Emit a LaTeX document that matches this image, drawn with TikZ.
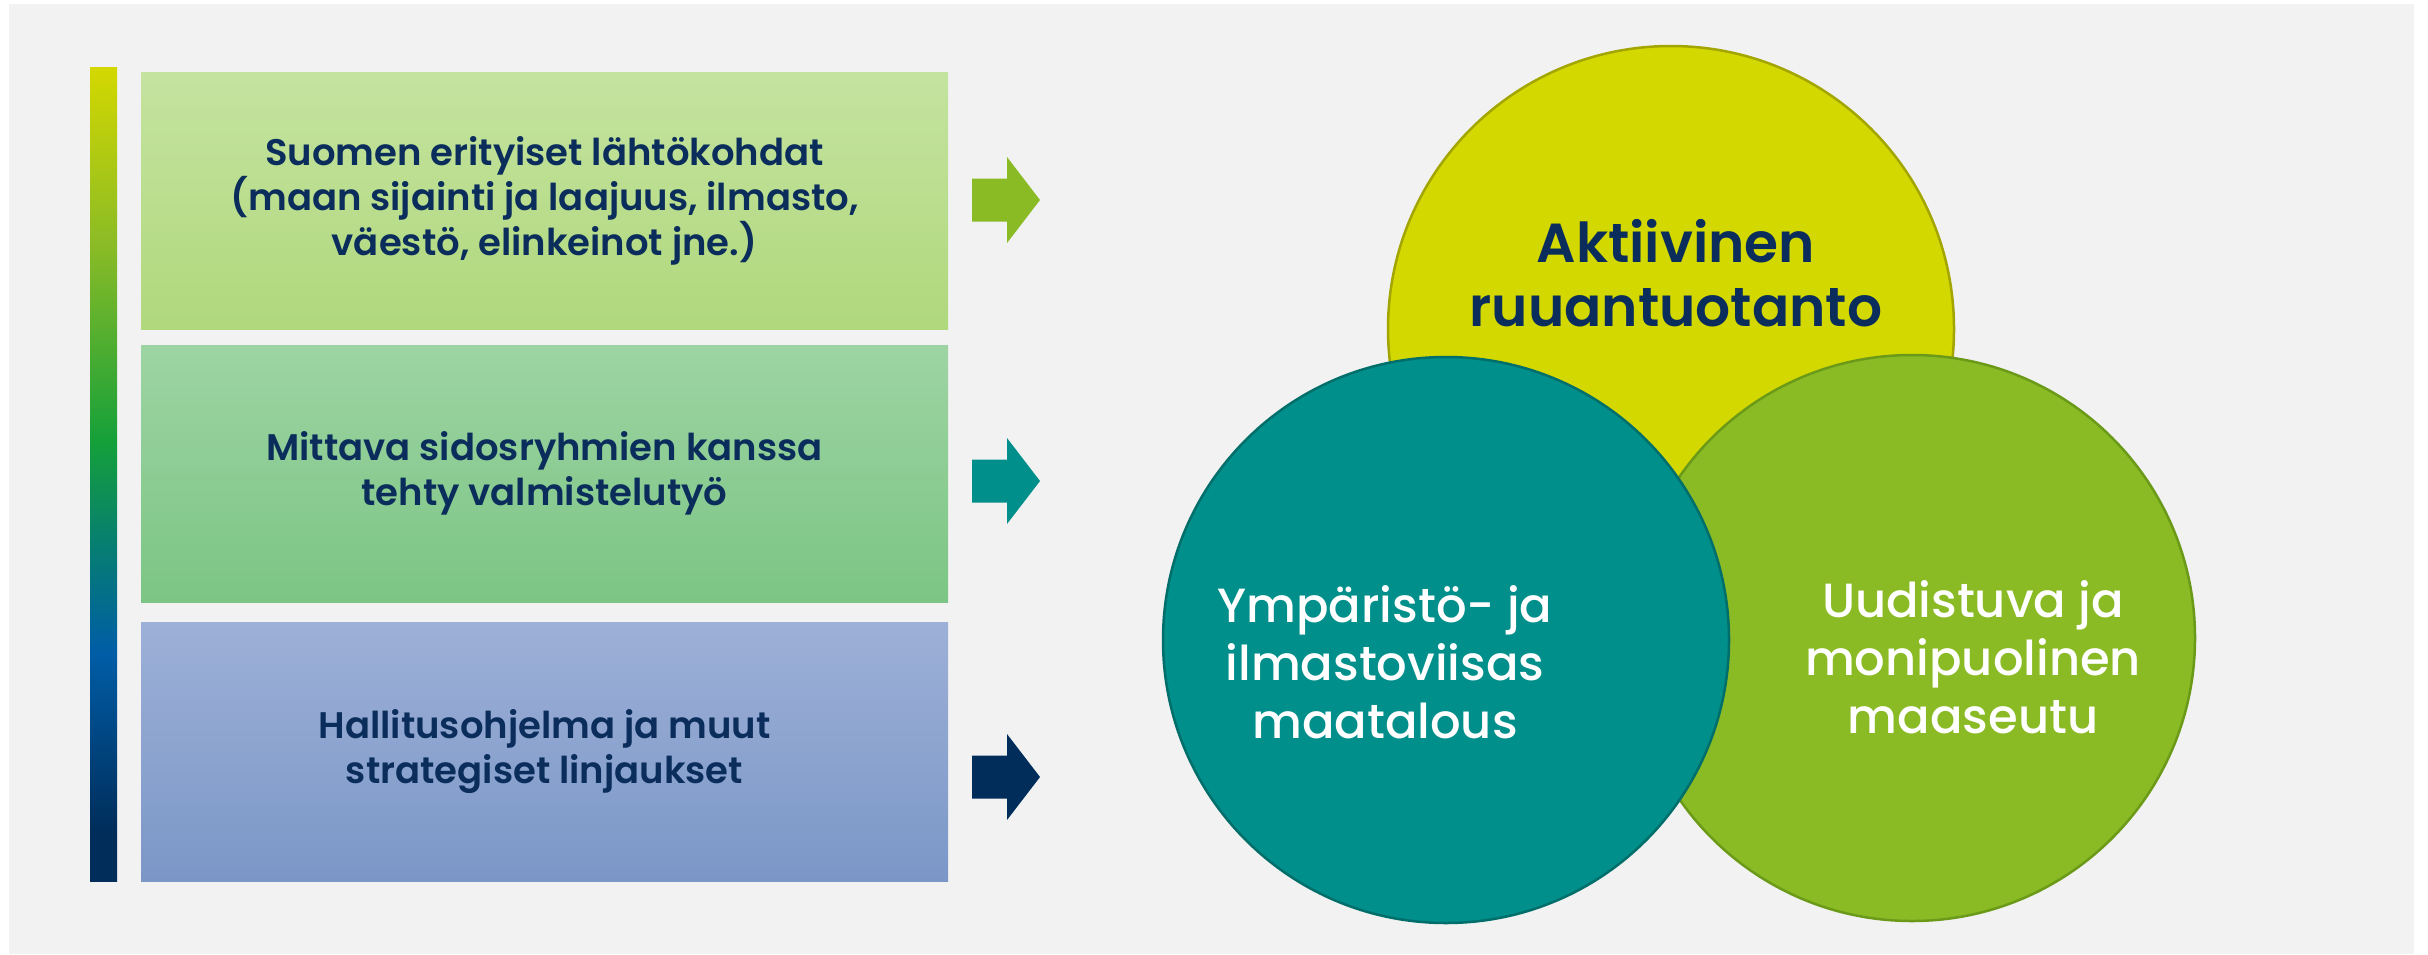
\documentclass[tikz,border=0pt]{standalone}
\usepackage{fontspec}
\setmainfont{Poppins}
\newfontfamily\medfont{Poppins Medium}
\newfontfamily\semifont{Poppins SemiBold}
\usepackage{tikz}

\definecolor{navy}{HTML}{0B2D5B}
\definecolor{arrownavy}{HTML}{002D5A}
\definecolor{lime}{HTML}{D3D800}
\definecolor{limeline}{HTML}{A3A500}
\definecolor{ymteal}{HTML}{008F8A}
\definecolor{ymtealline}{HTML}{006E6A}
\definecolor{grass}{HTML}{8ABB25}
\definecolor{grassline}{HTML}{6A9A18}
\definecolor{bgrey}{HTML}{F2F2F2}

\pgfdeclareverticalshading{barshade}{100bp}{
  color(0bp)=(arrownavy); color(28bp)=(arrownavy);
  color(39bp)=(rgb,255:red,0;green,93;blue,166);
  color(46bp)=(rgb,255:red,7;green,128;blue,110);
  color(52bp)=(rgb,255:red,21;green,160;blue,58);
  color(64bp)=(rgb,255:red,138;green,187;blue,38);
  color(75bp)=(rgb,255:red,212;green,216;blue,0); color(100bp)=(rgb,255:red,212;green,216;blue,0)}

\begin{document}
\begin{tikzpicture}[x=1pt,y=-1pt,
    box/.style={minimum width=807pt, minimum height=257pt, inner sep=0pt, align=center,
      text=navy, font=\semifont\fontsize{37}{45}\selectfont},
    ring/.style={circle, minimum size=566pt, inner sep=0pt, line width=2.5pt},
    ringtext/.style={align=center, inner sep=0pt, font=\medfont\fontsize{48}{58}\selectfont}]
    \fill[white] (0,0) rectangle (2428,954);
    \fill[bgrey] (9,4) rectangle (2414,954);

    % left column
    \node[minimum width=27pt, minimum height=814pt, inner sep=0pt, shading=barshade] (bar) at (103.5,474) {};
    \node[box, top color={rgb,255:red,196;green,227;blue,160}, bottom color={rgb,255:red,176;green,216;blue,124}]
        (lahto) at (544.5,200.5) {Suomen erityiset lähtökohdat\\(maan sijainti ja laajuus, ilmasto,\\väestö, elinkeinot jne.)};
    \node[box, top color={rgb,255:red,157;green,212;blue,163}, bottom color={rgb,255:red,124;green,197;blue,132}]
        (sidos) at (544.5,473.5) {Mittava sidosryhmien kanssa\\tehty valmistelutyö};
    \node[box, minimum height=259pt, top color={rgb,255:red,157;green,176;blue,215}, bottom color={rgb,255:red,123;green,151;blue,199}]
        (halli) at (544.5,751.5) {Hallitusohjelma ja muut\\strategiset linjaukset};

    % arrows
    \coordinate (tip1) at (1040,200);
    \coordinate (tip2) at (1040,481);
    \coordinate (tip3) at (1040,777);
    \fill[grass] (tip1) -- ++(-33,-43) -- ++(0,21.5) -- ++(-35,0) -- ++(0,43) -- ++(35,0) -- ++(0,21.5) -- cycle;
    \fill[ymteal] (tip2) -- ++(-33,-43) -- ++(0,21.5) -- ++(-35,0) -- ++(0,43) -- ++(35,0) -- ++(0,21.5) -- cycle;
    \fill[arrownavy] (tip3) -- ++(-33,-43) -- ++(0,21.5) -- ++(-35,0) -- ++(0,43) -- ++(35,0) -- ++(0,21.5) -- cycle;

    % circles
    \node[ring, fill=lime, draw=limeline] (ruoka) at (1671,329) {};
    \node[ring, fill=grass, draw=grassline] (maaseutu) at (1912,638) {};
    \node[ring, fill=ymteal, draw=ymtealline] (maatalous) at (1446,640) {};

    \node[align=center, inner sep=0pt, text=navy, font=\semifont\fontsize{55}{64}\selectfont]
        (ruokatxt) at (1676,273) {Aktiivinen\\ruuantuotanto};
    \node[ringtext, text=white] (maatxt) at (1385,662) {Ympäristö- ja\\ilmastoviisas\\maatalous};
    \node[ringtext, text=white] (seututxt) at (1973,657) {Uudistuva ja\\monipuolinen\\maaseutu};
\end{tikzpicture}
\end{document}
